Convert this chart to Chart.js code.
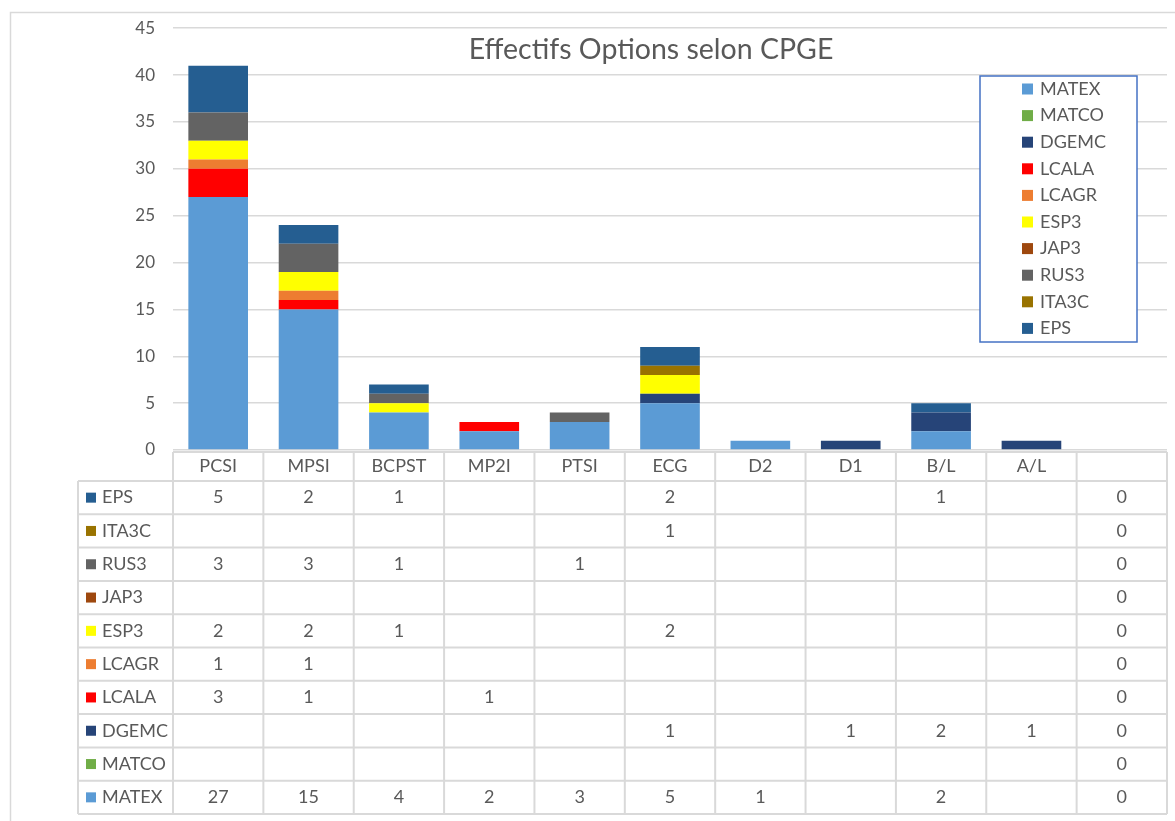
<!DOCTYPE html>
<html>
<head>
<meta charset="utf-8">
<script src="https://cdn.jsdelivr.net/npm/chart.js@4.4.1/dist/chart.umd.min.js"></script>
<style>
  html, body { margin: 0; padding: 0; background: #fff; }
  #wrap { position: relative; width: 1175px; height: 821px; }
</style>
</head>
<body>
<div id="wrap"><canvas id="chart" width="1175" height="821"></canvas></div>
<script>
// categories (last one is the empty column of the sheet)
const categories = ["PCSI", "MPSI", "BCPST", "MP2I", "PTSI", "ECG", "D2", "D1", "B/L", "A/L", ""];

// series, bottom of the stack first
const MATEX = [27, 15, 4, 2, 3, 5, 1, null, 2, null, 0];
const MATCO = [null, null, null, null, null, null, null, null, null, null, 0];
const DGEMC = [null, null, null, null, null, 1, null, 1, 2, 1, 0];
const LCALA = [3, 1, null, 1, null, null, null, null, null, null, 0];
const LCAGR = [1, 1, null, null, null, null, null, null, null, null, 0];
const ESP3 = [2, 2, 1, null, null, 2, null, null, null, null, 0];
const JAP3 = [null, null, null, null, null, null, null, null, null, null, 0];
const RUS3 = [3, 3, 1, null, 1, null, null, null, null, null, 0];
const ITA3C = [null, null, null, null, null, 1, null, null, null, null, 0];
const EPS = [5, 2, 1, null, null, 2, null, null, 1, null, 0];

const yTicks = [0, 5, 10, 15, 20, 25, 30, 35, 40, 45];

const seriesNames = ["MATEX", "MATCO", "DGEMC", "LCALA", "LCAGR", "ESP3", "JAP3", "RUS3", "ITA3C", "EPS"];
const seriesValues = [MATEX, MATCO, DGEMC, LCALA, LCAGR, ESP3, JAP3, RUS3, ITA3C, EPS];
const seriesColors = ["#5B9BD5", "#70AD47", "#264478", "#FF0000", "#ED7D31", "#FFFF00", "#9E480E", "#636363", "#997300", "#255E91"];

const FONT = "Lato, 'Liberation Sans', sans-serif";
const TXT = "#595959";
const LINE = "#D9D9D9";

// data table under the plot, plus frame, title and the boxed legend
const excelBits = {
  id: "excelBits",
  beforeDraw(chart) {
    const ctx = chart.ctx;
    ctx.save();
    ctx.strokeStyle = LINE;
    ctx.lineWidth = 1.5;
    ctx.strokeRect(10.5, 12.5, 1200, 900);
    ctx.restore();
  },
  afterDraw(chart) {
    const ctx = chart.ctx;
    const x = chart.scales.x;
    const area = chart.chartArea;
    const half = (x.getPixelForValue(1) - x.getPixelForValue(0)) / 2;
    const left = area.left, right = area.right;
    const headTop = area.bottom + 2, headBot = 481, rowH = 33.3;
    const labelLeft = 78;
    const n = chart.data.datasets.length;
    const tableBot = headBot + n * rowH;

    ctx.save();
    ctx.strokeStyle = LINE;
    ctx.lineWidth = 2;
    ctx.beginPath();
    // header row
    ctx.moveTo(left, headTop); ctx.lineTo(right, headTop);
    // row lines
    for (let r = 0; r <= n; r++) {
      const y = headBot + r * rowH;
      ctx.moveTo(labelLeft, y); ctx.lineTo(right, y);
    }
    // column lines
    ctx.moveTo(labelLeft, headBot); ctx.lineTo(labelLeft, tableBot);
    for (let i = 0; i <= categories.length; i++) {
      const cx = x.getPixelForValue(i) - half;
      ctx.moveTo(cx, headTop); ctx.lineTo(cx, tableBot);
    }
    ctx.stroke();

    ctx.fillStyle = TXT;
    ctx.font = "18px " + FONT;
    ctx.textBaseline = "middle";
    ctx.textAlign = "center";
    categories.forEach((c, i) => {
      ctx.fillText(c, x.getPixelForValue(i), (headTop + headBot) / 2);
    });

    // rows: top one is the last series
    for (let r = 0; r < n; r++) {
      const ds = chart.data.datasets[n - 1 - r];
      const cy = headBot + r * rowH + rowH / 2;
      ctx.fillStyle = ds.backgroundColor;
      ctx.fillRect(labelLeft + 8, cy - 5, 10, 10);
      ctx.fillStyle = TXT;
      ctx.textAlign = "left";
      ctx.fillText(ds.label, labelLeft + 24, cy);
      ctx.textAlign = "center";
      ds.data.forEach((v, i) => {
        if (v !== null && v !== undefined) ctx.fillText(String(v), x.getPixelForValue(i), cy);
      });
    }

    // title with white backing
    ctx.font = "28.5px " + FONT;
    ctx.textAlign = "center";
    const title = "Effectifs Options selon CPGE";
    const tw = ctx.measureText(title).width;
    ctx.fillStyle = "#fff";
    ctx.fillRect(651 - tw / 2 - 6, 32, tw + 12, 36);
    ctx.fillStyle = TXT;
    ctx.fillText(title, 651, 50);

    // legend box
    const lx = 980, ly = 76, lw = 157, lh = 266;
    ctx.fillStyle = "#fff";
    ctx.fillRect(lx, ly, lw, lh);
    ctx.strokeStyle = "#4472C4";
    ctx.lineWidth = 1.5;
    ctx.strokeRect(lx, ly, lw, lh);
    ctx.font = "18px " + FONT;
    ctx.textAlign = "left";
    chart.data.datasets.forEach((ds, i) => {
      const cy = 89 + i * 26.6;
      ctx.fillStyle = ds.backgroundColor;
      ctx.fillRect(1022, cy - 5.5, 11, 11);
      ctx.fillStyle = TXT;
      ctx.fillText(ds.label, 1040, cy);
    });
    ctx.restore();
  }
};

new Chart(document.getElementById("chart"), {
  type: "bar",
  data: {
    labels: categories,
    datasets: seriesNames.map((name, i) => ({
      label: name,
      data: seriesValues[i],
      backgroundColor: seriesColors[i],
      borderWidth: 0,
      categoryPercentage: 1,
      barPercentage: 0.66
    }))
  },
  options: {
    responsive: false,
    animation: false,
    layout: { padding: { top: 21, right: 8, bottom: 363, left: 0 } },
    plugins: { legend: { display: false }, tooltip: { enabled: false } },
    scales: {
      x: {
        stacked: true,
        ticks: { display: false },
        grid: { display: false },
        border: { display: false }
      },
      y: {
        stacked: true,
        min: 0,
        max: 45,
        afterBuildTicks: (axis) => { axis.ticks = yTicks.map(v => ({ value: v })); },
        afterFit: (axis) => { axis.width = 173; },
        ticks: { color: TXT, font: { family: FONT, size: 17 }, padding: 18 },
        grid: { color: LINE, lineWidth: 1.5, drawTicks: false },
        border: { display: false }
      }
    }
  },
  plugins: [excelBits]
});
</script>
</body>
</html>
